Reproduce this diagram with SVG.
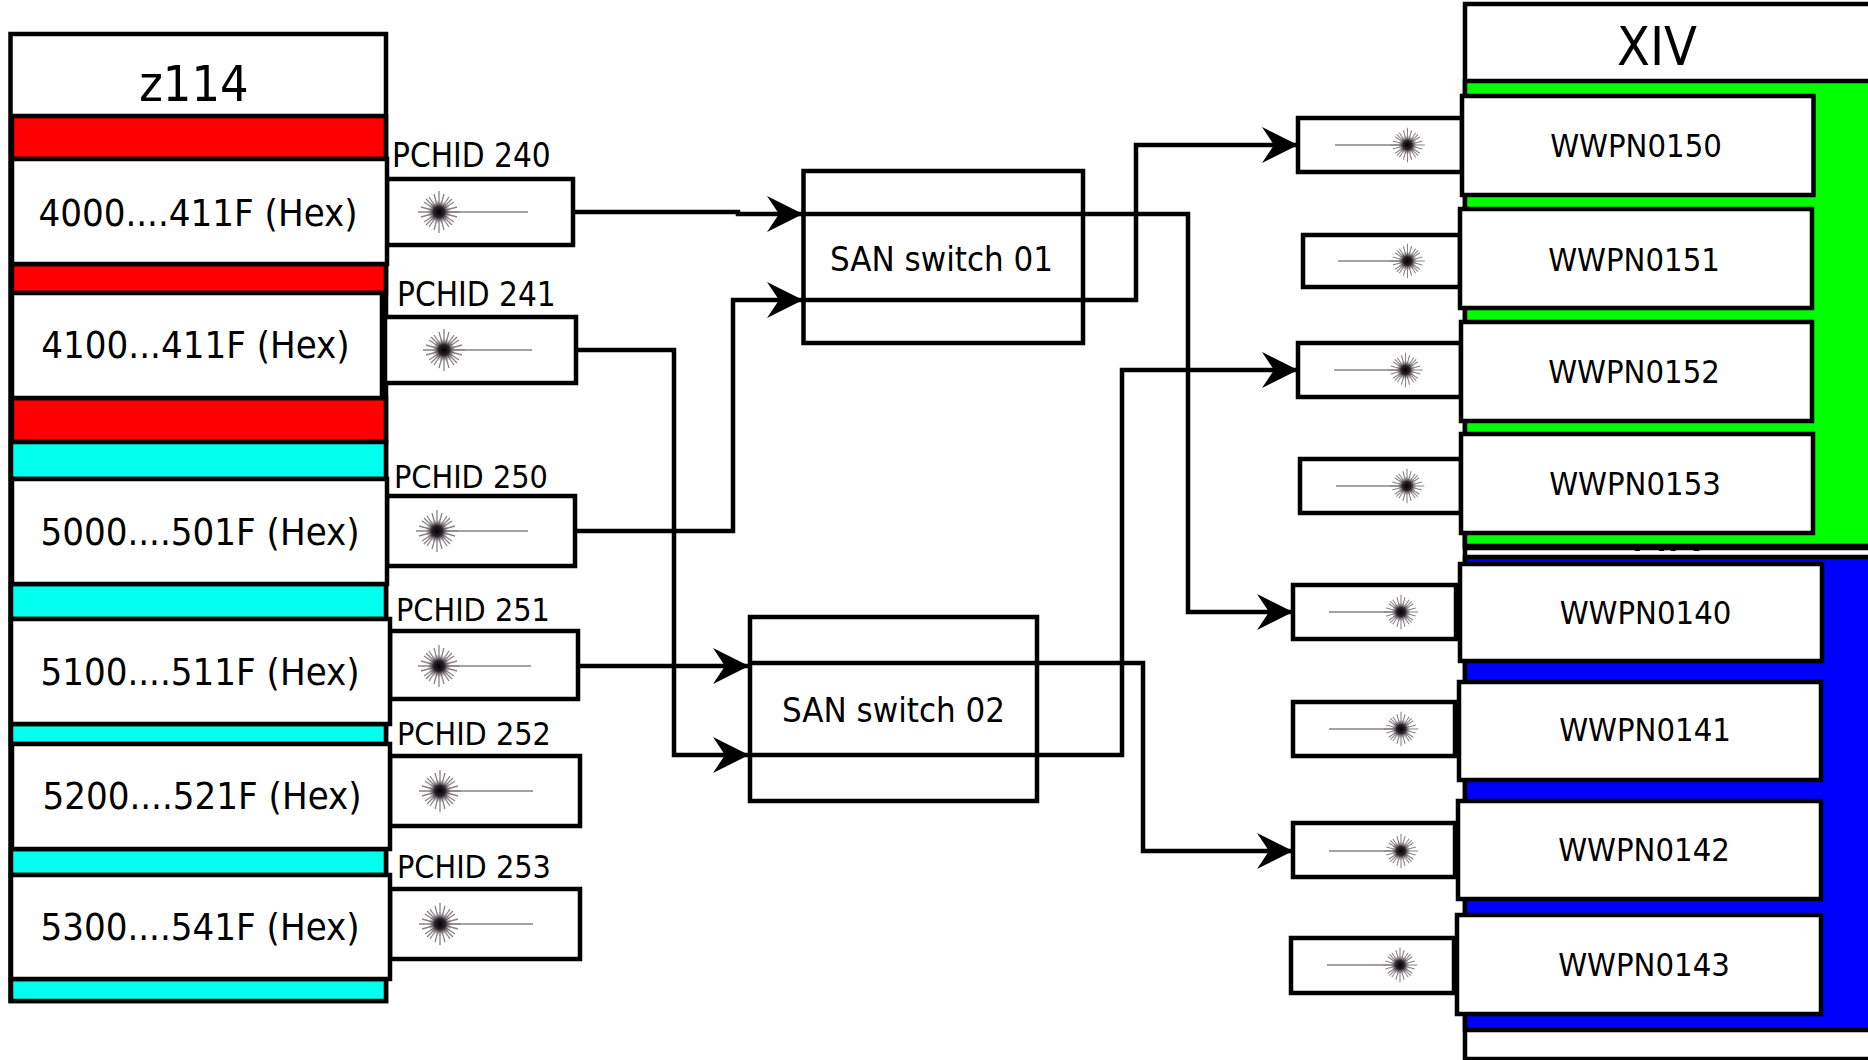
<svg xmlns="http://www.w3.org/2000/svg" width="1868" height="1060" viewBox="0 0 1868 1060">
<style>
text{font-family:"DejaVu Sans Condensed","DejaVu Sans",sans-serif;fill:#000}
.b{fill:#fff;stroke:#000;stroke-width:4.5}
.r{fill:#f00;stroke:#000;stroke-width:4.5}
.c{fill:#0fe;stroke:#000;stroke-width:4.5}
.g{fill:#0f0;stroke:#000;stroke-width:4.5}
.u{fill:#00f;stroke:#000;stroke-width:4.5}
.t{font-size:38px;text-anchor:middle}
.h{font-size:50px;text-anchor:middle}
.x{font-size:53.500px;text-anchor:middle}
.p{font-size:32px}
.q{font-size:33px}
.w{font-size:32.500px;text-anchor:middle}
.s{font-size:34.500px;text-anchor:middle}
.l{fill:none;stroke:#000;stroke-width:4.5;stroke-linejoin:miter}
.f{stroke:#8a8286;stroke-width:1.500}
</style>
<defs>
<marker id="arrow" markerUnits="userSpaceOnUse" markerWidth="40" markerHeight="40" refX="36" refY="20" orient="auto" viewBox="0 0 40 40"><path d="M36 20L0 2L12 20L0 38Z" fill="#000"/></marker>
<radialGradient id="core"><stop offset="0" stop-color="#000"/><stop offset=".45" stop-color="#2a2226"/><stop offset="1" stop-color="#8a8286" stop-opacity="0"/></radialGradient>
<g id="star">
<path d="M-21 0H21M0-21V21M-18-5L18 5M-18 5L18-5M-5-18L5 18M5-18L-5 18M-15-10L15 10M-15 10L15-10M-10-15L10 15M10-15L-10 15M-13-13L13 13M-13 13L13-13" fill="none" stroke="#8a8286" stroke-width="1.300"/>
<circle r="12" fill="url(#core)"/>
</g>
</defs>

<g id="xiv-2">
<rect class="b" x="1465" y="480" width="500" height="579"/>
<text class="x" x="1673" y="551">XIV</text>
<rect class="u" x="1465" y="557" width="500" height="473"/>
</g>
<g id="xiv-1">
<rect class="b" x="1465" y="4" width="500" height="544"/>
<rect class="g" x="1465" y="81" width="500" height="465"/>
<text class="x" x="1657" y="65">XIV</text>
</g>

<g id="z114">
<rect class="b" x="10.500" y="34" width="375.500" height="967"/>
<text class="h" x="194" y="101">z114</text>
<rect class="r" x="12" y="116" width="374" height="43"/>
<rect class="r" x="12" y="264" width="374" height="29"/>
<rect class="r" x="12" y="398" width="374" height="44"/>
<rect class="c" x="11" y="442" width="375" height="37"/>
<rect class="c" x="11" y="584" width="375" height="35"/>
<rect class="c" x="11" y="724" width="375" height="20"/>
<rect class="c" x="11" y="849" width="375" height="26"/>
<rect class="c" x="11" y="979" width="375" height="22"/>
</g>

<g id="port-240"><rect class="b" x="387" y="179" width="186" height="66"/><path class="f" d="M439 212H528"/><use href="#star" x="439" y="212"/><text class="q" x="392" y="167">PCHID 240</text></g>
<g id="port-241"><rect class="b" x="385" y="317" width="191" height="66"/><path class="f" d="M444 350H532"/><use href="#star" x="444" y="350"/><text class="q" x="397" y="306">PCHID 241</text></g>
<g id="port-250"><rect class="b" x="387" y="496" width="188" height="70"/><path class="f" d="M437 531H528"/><use href="#star" x="437" y="531"/><text class="p" x="394" y="488">PCHID 250</text></g>
<g id="port-251"><rect class="b" x="390" y="631" width="188" height="68"/><path class="f" d="M439 666H531"/><use href="#star" x="439" y="666"/><text class="p" x="396" y="621">PCHID 251</text></g>
<g id="port-252"><rect class="b" x="390" y="756" width="190" height="70"/><path class="f" d="M440 791H533"/><use href="#star" x="440" y="791"/><text class="p" x="397" y="745">PCHID 252</text></g>
<g id="port-253"><rect class="b" x="390" y="889" width="190" height="70"/><path class="f" d="M440 924H533"/><use href="#star" x="440" y="924"/><text class="p" x="397" y="878">PCHID 253</text></g>

<g id="lcu-4000"><rect class="b" x="12" y="159" width="375" height="105"/><text class="t" x="198" y="226">4000....411F (Hex)</text></g>
<g id="lcu-4100"><rect class="b" x="12" y="293" width="370" height="105"/><text class="t" x="195.500" y="358">4100...411F (Hex)</text></g>
<g id="lcu-5000"><rect class="b" x="12" y="479" width="375" height="105"/><text class="t" x="200" y="544.500">5000....501F (Hex)</text></g>
<g id="lcu-5100"><rect class="b" x="11" y="619" width="379" height="105"/><text class="t" x="200" y="685">5100....511F (Hex)</text></g>
<g id="lcu-5200"><rect class="b" x="12" y="744" width="378" height="105"/><text class="t" x="202" y="809">5200....521F (Hex)</text></g>
<g id="lcu-5300"><rect class="b" x="11" y="875" width="379" height="104"/><text class="t" x="200" y="940">5300....541F (Hex)</text></g>

<g id="switch-01"><rect class="b" x="803.500" y="171" width="279.500" height="172"/><text class="s" x="941.500" y="271">SAN switch 01</text></g>
<g id="switch-02"><rect class="b" x="750" y="617" width="287" height="184"/><text class="s" x="893.500" y="722">SAN switch 02</text></g>

<g id="host-0150"><rect class="b" x="1298" y="118" width="164" height="54"/><path class="f" d="M1335 145H1407"/><use href="#star" transform="translate(1407.500 145) scale(.82)"/><rect class="b" x="1462" y="96" width="351.500" height="99"/><text class="w" x="1636" y="157">WWPN0150</text></g>
<g id="host-0151"><rect class="b" x="1303" y="235" width="157" height="52"/><path class="f" d="M1338 261H1407"/><use href="#star" transform="translate(1407.500 261) scale(.82)"/><rect class="b" x="1460" y="209" width="352" height="99"/><text class="w" x="1634" y="271">WWPN0151</text></g>
<g id="host-0152"><rect class="b" x="1298" y="343" width="163" height="54"/><path class="f" d="M1334 370H1405"/><use href="#star" transform="translate(1405.500 370) scale(.82)"/><rect class="b" x="1461" y="322" width="351" height="99"/><text class="w" x="1634" y="383">WWPN0152</text></g>
<g id="host-0153"><rect class="b" x="1300" y="459" width="161" height="54"/><path class="f" d="M1336 486H1407"/><use href="#star" transform="translate(1407 486) scale(.82)"/><rect class="b" x="1461" y="434" width="352" height="99"/><text class="w" x="1635" y="495">WWPN0153</text></g>
<g id="host-0140"><rect class="b" x="1293" y="585" width="163" height="54"/><path class="f" d="M1329 612H1401"/><use href="#star" transform="translate(1401 612) scale(.82)"/><rect class="b" x="1460" y="564" width="362" height="97"/><text class="w" x="1645.500" y="624">WWPN0140</text></g>
<g id="host-0141"><rect class="b" x="1459" y="682" width="362" height="98"/><rect class="b" x="1293" y="702" width="162" height="54"/><path class="f" d="M1329 729H1401"/><use href="#star" transform="translate(1401 729) scale(.82)"/><text class="w" x="1645" y="741">WWPN0141</text></g>
<g id="host-0142"><rect class="b" x="1293" y="823" width="162" height="54"/><path class="f" d="M1329 851H1401"/><use href="#star" transform="translate(1401 851) scale(.82)"/><rect class="b" x="1458" y="801" width="363" height="98"/><text class="w" x="1644" y="861">WWPN0142</text></g>
<g id="host-0143"><rect class="b" x="1291" y="938" width="163" height="55"/><path class="f" d="M1327 965H1400"/><use href="#star" transform="translate(1400 965) scale(.82)"/><rect class="b" x="1457" y="915" width="364" height="99"/><text class="w" x="1644" y="976">WWPN0143</text></g>

<g id="connectors">
<path class="l" d="M573 212H738V214H803" marker-end="url(#arrow)"/>
<path class="l" d="M575 531H733V300H803" marker-end="url(#arrow)"/>
<path class="l" d="M576 350H674V755H749" marker-end="url(#arrow)"/>
<path class="l" d="M578 666H749" marker-end="url(#arrow)"/>
<path class="l" d="M803 214H1188V612H1293" marker-end="url(#arrow)"/>
<path class="l" d="M803 300H1136V145H1298" marker-end="url(#arrow)"/>
<path class="l" d="M749 755H1122V370H1298" marker-end="url(#arrow)"/>
<path class="l" d="M749 663H1143V851H1293" marker-end="url(#arrow)"/>
</g>
</svg>
